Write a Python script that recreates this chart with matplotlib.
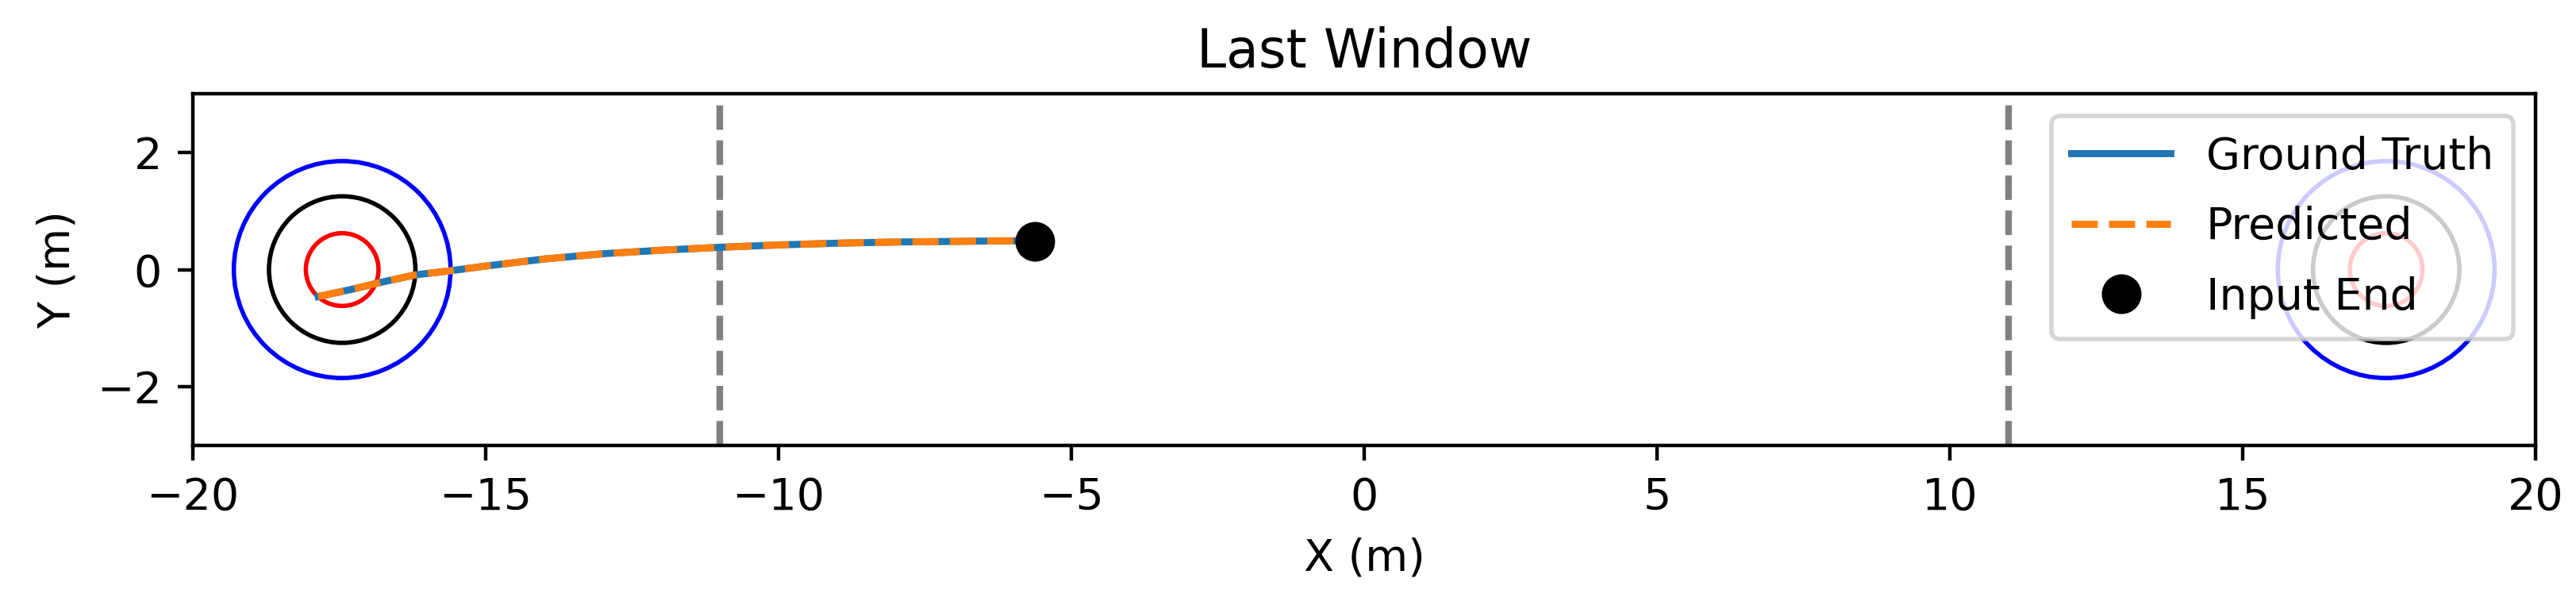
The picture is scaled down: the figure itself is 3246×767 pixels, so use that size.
import matplotlib
matplotlib.use("Agg")
import matplotlib.pyplot as plt
from matplotlib.patches import Circle

# Data
traj_x = [-17.86, -17.3, -16.8, -16.2, -15.6, -15.0, -14.0, -13.0, -12.0, -11.0, -10.0, -9.0, -8.0, -7.0, -6.2, -5.63]
traj_y = [-0.46, -0.34, -0.22, -0.09, -0.02, 0.06, 0.18, 0.27, 0.33, 0.38, 0.42, 0.45, 0.47, 0.48, 0.49, 0.49]
input_end = (-5.63, 0.48)
circle_centers_x = [-17.45, 17.45]
circle_radii = [0.62, 1.25, 1.85]
circle_colors = ["red", "black", "blue"]
window_bounds = [-11, 11]
x_ticks = [-20, -15, -10, -5, 0, 5, 10, 15, 20]
y_ticks = [-2, 0, 2]

W, H, DPI = 3246, 767, 400
fig = plt.figure(figsize=(W / DPI, H / DPI), dpi=DPI)
ax = fig.add_axes([243 / W, 1 - 561 / H, (3195 - 243) / W, 443 / H])

for cx in circle_centers_x:
    for r, c in zip(circle_radii, circle_colors):
        ax.add_patch(Circle((cx, 0), r, fill=False, edgecolor=c, linewidth=1.0))

for b in window_bounds:
    ax.axvline(b, color="gray", linestyle="--", linewidth=1.5)

ax.plot(traj_x, traj_y, color="#1f77b4", linewidth=1.6, label="Ground Truth")
ax.plot(traj_x, traj_y, color="#ff7f0e", linestyle="--", linewidth=1.6, label="Predicted")
ax.plot([input_end[0]], [input_end[1]], "o", color="black", markersize=8, linestyle="none", label="Input End")

ax.set_xlim(-20, 20)
ax.set_ylim(-3, 3)
ax.set_xticks(x_ticks)
ax.set_yticks(y_ticks)
ax.set_xlabel("X (m)")
ax.set_ylabel("Y (m)")
ax.set_title("Last Window")
ax.legend(loc="upper right", labelspacing=0.62, handlelength=2.25, borderpad=0.45)

fig.savefig("out.png", dpi=DPI)
